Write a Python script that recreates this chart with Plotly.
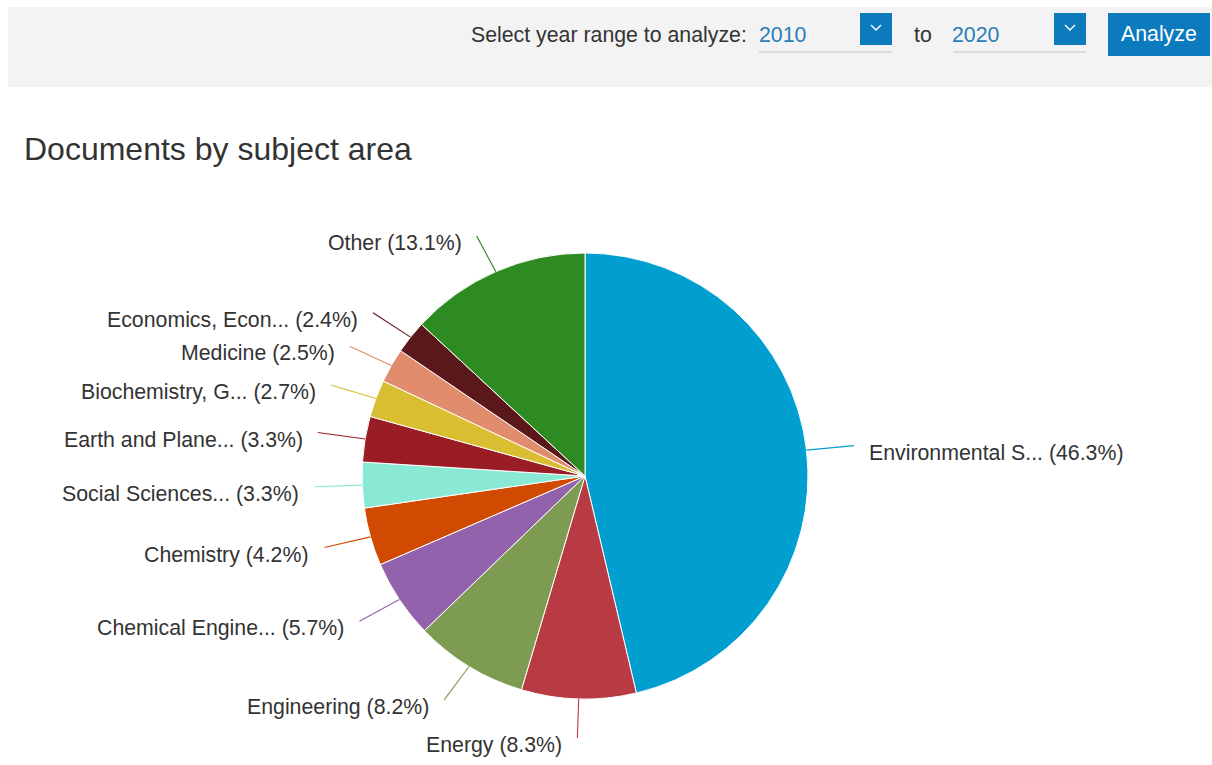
import math
import plotly.graph_objects as go

W, H = 1212, 765

# ---- data ----
subjects = ["Environmental S...", "Energy", "Engineering", "Chemical Engine...",
            "Chemistry", "Social Sciences...", "Earth and Plane...",
            "Biochemistry, G...", "Medicine", "Economics, Econ...", "Other"]
shares = [46.3, 8.3, 8.2, 5.7, 4.2, 3.3, 3.3, 2.7, 2.5, 2.4, 13.1]
slice_colors = ["#009fcf", "#b83a42", "#7e9c51", "#9262ad", "#d14a02", "#89e9d5",
                "#9a1d26", "#d8be30", "#e18d6d", "#5b181b", "#2e8b22"]
year_from = "2010"
year_to = "2020"

# ---- layout constants (pixels) ----
CX, CY, R = 585, 476, 223
RX_LABEL, RY_LABEL = 271, 262
FONT = "Liberation Sans, Arial, sans-serif"
TXT = "#333333"
BLUE = "#0c7bbd"
LABEL_SIZE = 21.3


def px(x):
    return x / W


def py(y):
    return 1 - y / H


fig = go.Figure()
fig.add_trace(go.Pie(
    labels=subjects, values=shares, sort=False, direction="clockwise", rotation=0,
    marker=dict(colors=slice_colors, line=dict(color="white", width=1)),
    textinfo="none", hoverinfo="label+percent",
    domain=dict(x=[px(CX - R), px(CX + R)], y=[py(CY + R), py(CY - R)]),
    showlegend=False,
))

shapes = []
annotations = []

# leader lines and labels computed from slice mid-angles
total = sum(shares)
cum = 0.0
for name, v, col in zip(subjects, shares, slice_colors):
    mid = (cum + v / 2) / total * 2 * math.pi
    cum += v
    sx, sy = CX + R * math.sin(mid), CY - R * math.cos(mid)
    ex, ey = CX + RX_LABEL * math.sin(mid), CY - RY_LABEL * math.cos(mid)
    shapes.append(dict(type="line", xref="paper", yref="paper",
                       x0=px(sx), y0=py(sy), x1=px(ex), y1=py(ey),
                       line=dict(color=col, width=1.1)))
    right_side = math.sin(mid) > 0
    tx = ex + 13 if right_side else ex - 13
    annotations.append(dict(
        x=px(tx), y=py(ey + 7), xref="paper", yref="paper",
        text=f"{name} ({v}%)", showarrow=False,
        xanchor="left" if right_side else "right", yanchor="middle",
        font=dict(family=FONT, size=LABEL_SIZE, color=TXT)))

# ---- header panel ----
shapes.append(dict(type="rect", xref="paper", yref="paper", layer="below",
                   x0=px(8), x1=px(1212), y0=py(87), y1=py(7),
                   fillcolor="#f3f3f3", line=dict(width=0)))


def dropdown(x_text, x_line0, x_line1, year):
    annotations.append(dict(x=px(x_text), y=py(35), xref="paper", yref="paper",
                            text=year, showarrow=False, xanchor="left", yanchor="middle",
                            font=dict(family=FONT, size=LABEL_SIZE, color="#2a7db8")))
    shapes.append(dict(type="line", xref="paper", yref="paper",
                       x0=px(x_line0), x1=px(x_line1), y0=py(52), y1=py(52),
                       line=dict(color="#dcdcdc", width=2)))
    bx0 = x_line1 - 32
    shapes.append(dict(type="rect", xref="paper", yref="paper",
                       x0=px(bx0), x1=px(x_line1), y0=py(45), y1=py(13),
                       fillcolor=BLUE, line=dict(width=0)))
    mx = (bx0 + x_line1) / 2
    shapes.append(dict(type="path", xref="paper", yref="paper",
                       path=f"M {px(mx-5)},{py(25)} L {px(mx)},{py(30)} L {px(mx+5)},{py(25)}",
                       line=dict(color="white", width=1.5)))


annotations.append(dict(x=px(749), y=py(35), xref="paper", yref="paper",
                        text="Select year range to analyze:", showarrow=False,
                        xanchor="right", yanchor="middle",
                        font=dict(family=FONT, size=LABEL_SIZE, color=TXT)))
dropdown(757, 759, 892, year_from)
annotations.append(dict(x=px(912), y=py(35), xref="paper", yref="paper",
                        text="to", showarrow=False, xanchor="left", yanchor="middle",
                        font=dict(family=FONT, size=LABEL_SIZE, color=TXT)))
dropdown(950, 953, 1086, year_to)

shapes.append(dict(type="rect", xref="paper", yref="paper",
                   x0=px(1108), x1=px(1210), y0=py(56), y1=py(13),
                   fillcolor=BLUE, line=dict(width=0)))
annotations.append(dict(x=px(1159), y=py(34), xref="paper", yref="paper",
                        text="Analyze", showarrow=False, xanchor="center", yanchor="middle",
                        font=dict(family=FONT, size=LABEL_SIZE, color="white")))

# ---- title ----
annotations.append(dict(x=px(22), y=py(149), xref="paper", yref="paper",
                        text="Documents by subject area", showarrow=False,
                        xanchor="left", yanchor="middle",
                        font=dict(family=FONT, size=32, color="#333333")))

fig.update_layout(
    width=W, height=H, margin=dict(l=0, r=0, t=0, b=0),
    paper_bgcolor="white", plot_bgcolor="white",
    shapes=shapes, annotations=annotations,
)

fig.write_html("out.html", config={"displayModeBar": False},
               post_script="document.body.style.margin='0';")
